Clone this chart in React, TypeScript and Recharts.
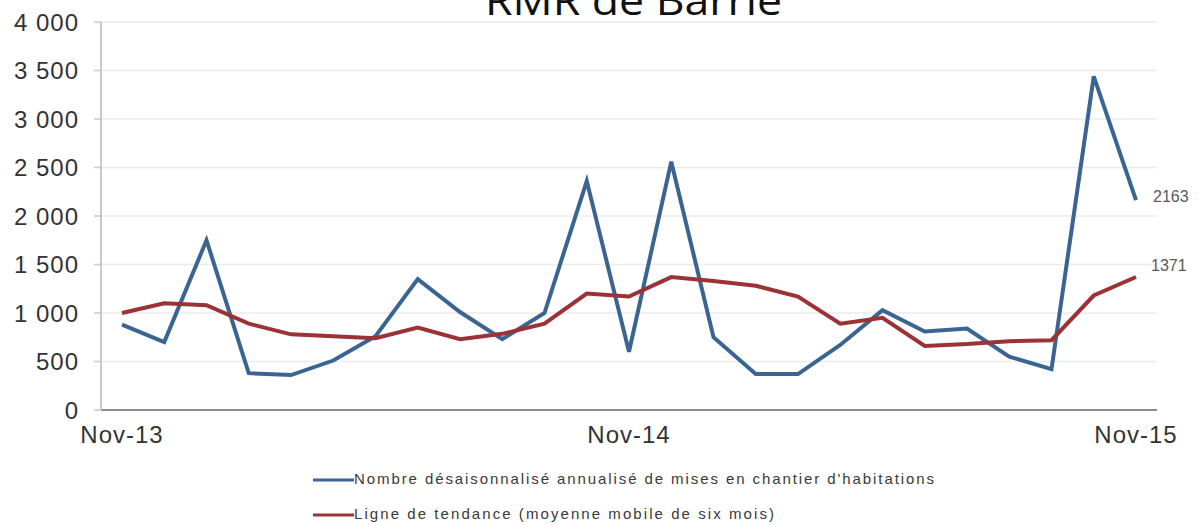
import React from 'react';
import { LineChart, Line, XAxis, YAxis, CartesianGrid } from 'recharts';

const months: string[] = [
  'Nov-13', 'Dec-13', 'Jan-14', 'Feb-14', 'Mar-14', 'Apr-14', 'May-14', 'Jun-14', 'Jul-14', 'Aug-14', 'Sep-14', 'Oct-14',
  'Nov-14', 'Dec-14', 'Jan-15', 'Feb-15', 'Mar-15', 'Apr-15', 'May-15', 'Jun-15', 'Jul-15', 'Aug-15', 'Sep-15', 'Oct-15',
  'Nov-15',
];
const starts: number[] = [
  880, 700, 1750, 380, 360, 510, 760, 1350, 1010, 730, 1000, 2360,
  600, 2560, 750, 370, 370, 670, 1030, 810, 840, 550, 420, 3440,
  2163,
];
const trend: number[] = [
  1000, 1100, 1080, 890, 780, 760, 740, 850, 730, 785, 890, 1200,
  1170, 1370, 1330, 1280, 1170, 890, 950, 660, 680, 710, 720, 1180,
  1371,
];
const yTicks: number[] = [0, 500, 1000, 1500, 2000, 2500, 3000, 3500, 4000];
const title = 'RMR de Barrie';
const seriesNames: string[] = [
  "Nombre désaisonnalisé annualisé de mises en chantier d'habitations",
  'Ligne de tendance (moyenne mobile de six mois)',
];

const BLUE = '#3A6593';
const RED = '#9B3236';
const FONT = '"Liberation Sans", Arial, sans-serif';

const data = months.map((m, i) => ({ month: m, starts: starts[i], trend: trend[i] }));

const fmt = (v: number) => {
  const s = String(v);
  return s.length > 3 ? s.slice(0, s.length - 3) + ' ' + s.slice(-3) : s;
};

const makeLabel = (dx: number, dy: number) => (props: any) => {
  const { x, y, index, value } = props;
  if (index !== months.length - 1) return null;
  return (
    <text x={x + dx} y={y + dy} fill="#595959" fontSize={16} fontFamily={FONT} dominantBaseline="middle">
      {value}
    </text>
  );
};

export default function App() {
  return (
    <div style={{ position: 'absolute', left: 0, top: 0, width: 1203, height: 525, background: '#fff', overflow: 'hidden' }}>
      <LineChart width={1203} height={525} data={data} margin={{ top: 22, right: 46, left: 0, bottom: 75 }}>
        <CartesianGrid vertical={false} stroke="#EBEBEB" strokeWidth={1.5} />
        <XAxis
          dataKey="month"
          interval={11}
          tickLine={false}
          tickSize={0}
          tickMargin={16}
          height={40}
          padding={{ left: 21, right: 21 }}
          axisLine={{ stroke: '#8C8C8C', strokeWidth: 2 }}
          tick={{ fill: '#333333', fontSize: 24, fontFamily: FONT, letterSpacing: 1 }}
        />
        <YAxis
          domain={[0, 4000]}
          ticks={yTicks}
          width={101}
          interval={0}
          tickFormatter={fmt}
          tickSize={7}
          tickMargin={15}
          tickLine={{ stroke: '#C8C8C8', strokeWidth: 1.5 }}
          axisLine={{ stroke: '#C8C8C8', strokeWidth: 2 }}
          tick={{ fill: '#333333', fontSize: 24, fontFamily: FONT, letterSpacing: 1 }}
        />
        <Line
          dataKey="starts"
          stroke={BLUE}
          strokeWidth={4}
          dot={false}
          isAnimationActive={false}
          type="linear"
          label={makeLabel(17, -2)}
        />
        <Line
          dataKey="trend"
          stroke={RED}
          strokeWidth={4}
          dot={false}
          isAnimationActive={false}
          type="linear"
          label={makeLabel(15, -10)}
        />
      </LineChart>
      <svg width={1203} height={525} style={{ position: 'absolute', left: 0, top: 0, pointerEvents: 'none' }}>
        <text x={485} y={15} fontSize={40} fontFamily='"Open Sans", sans-serif' fill="#111" textLength={297} lengthAdjust="spacingAndGlyphs">
          {title}
        </text>
        <line x1={313} y1={480} x2={354} y2={480} stroke={BLUE} strokeWidth={3} />
        <text x={354} y={480} fontSize={15} fontFamily={FONT} fill="#3A3A3A" dominantBaseline="middle" textLength={580} lengthAdjust="spacing">
          {seriesNames[0]}
        </text>
        <line x1={313} y1={515} x2={354} y2={515} stroke={RED} strokeWidth={3} />
        <text x={354} y={515} fontSize={15} fontFamily={FONT} fill="#3A3A3A" dominantBaseline="middle" textLength={420} lengthAdjust="spacing">
          {seriesNames[1]}
        </text>
      </svg>
    </div>
  );
}
